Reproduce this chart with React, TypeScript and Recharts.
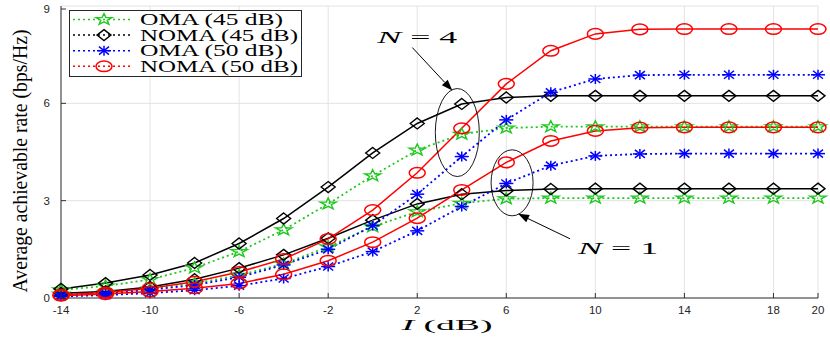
import { CartesianGrid, Legend, Line, LineChart, ReferenceDot, XAxis, YAxis } from "recharts";

const xValues = [-14, -12, -10, -8, -6, -4, -2, 0, 2, 4, 6, 8, 10, 12, 14, 16, 18, 20];
const xTicks = [-14, -10, -6, -2, 2, 6, 10, 14, 18, 20];
const yTicks = [0, 3, 6, 9];

// N = 4
const oma45N4 = [0.25, 0.37, 0.57, 0.93, 1.43, 2.1, 2.9, 3.77, 4.56, 5.05, 5.24, 5.28, 5.28, 5.28, 5.28, 5.28, 5.28, 5.28];
const noma45N4 = [0.28, 0.46, 0.71, 1.08, 1.68, 2.45, 3.42, 4.47, 5.38, 5.98, 6.18, 6.23, 6.23, 6.23, 6.23, 6.23, 6.23, 6.23];
const oma50N4 = [0.08, 0.14, 0.25, 0.4, 0.64, 1.02, 1.5, 2.23, 3.2, 4.36, 5.49, 6.34, 6.75, 6.87, 6.88, 6.88, 6.88, 6.88];
const noma50N4 = [0.1, 0.17, 0.3, 0.5, 0.8, 1.2, 1.82, 2.71, 3.86, 5.23, 6.6, 7.62, 8.14, 8.28, 8.29, 8.29, 8.29, 8.29];
// N = 1
const oma45N1 = [0.12, 0.18, 0.28, 0.45, 0.7, 1.05, 1.58, 2.2, 2.66, 2.92, 3.06, 3.08, 3.08, 3.08, 3.08, 3.08, 3.08, 3.08];
const noma45N1 = [0.15, 0.2, 0.34, 0.58, 0.92, 1.33, 1.84, 2.4, 2.9, 3.2, 3.31, 3.36, 3.37, 3.37, 3.37, 3.37, 3.37, 3.37];
const oma50N1 = [0.05, 0.09, 0.15, 0.24, 0.38, 0.6, 0.97, 1.43, 2.07, 2.82, 3.53, 4.08, 4.38, 4.44, 4.45, 4.45, 4.45, 4.45];
const noma50N1 = [0.07, 0.12, 0.2, 0.3, 0.45, 0.73, 1.15, 1.72, 2.46, 3.33, 4.18, 4.84, 5.15, 5.25, 5.26, 5.26, 5.26, 5.26];

const data = xValues.map((x, i) => ({
  x,
  oma45N4: oma45N4[i],
  noma45N4: noma45N4[i],
  oma50N4: oma50N4[i],
  noma50N4: noma50N4[i],
  oma45N1: oma45N1[i],
  noma45N1: noma45N1[i],
  oma50N1: oma50N1[i],
  noma50N1: noma50N1[i],
}));

const GREEN = "#1ec81e";
const BLUE = "#0000ff";
const RED = "#ff0000";
const BLACK = "#000000";
const SERIF = "'Liberation Serif', 'DejaVu Serif', serif";
const SANS = "'Liberation Sans', Arial, sans-serif";

type MarkerKind = "star" | "diamond" | "asterisk" | "circle";

function starPoints(cx: number, cy: number) {
  const pts: string[] = [];
  for (let k = 0; k < 10; k++) {
    const r = k % 2 === 0 ? 6 : 2.4;
    const a = -Math.PI / 2 + (k * Math.PI) / 5;
    pts.push(`${cx + r * Math.cos(a) * 1.4},${cy + r * Math.sin(a)}`);
  }
  return pts.join(" ");
}

function Marker({ kind, cx, cy }: { kind: MarkerKind; cx: number; cy: number }) {
  if (kind === "star")
    return <polygon points={starPoints(cx, cy)} fill="none" stroke={GREEN} strokeWidth={1.4} />;
  if (kind === "diamond")
    return (
      <polygon
        points={`${cx},${cy - 5.5} ${cx + 7},${cy} ${cx},${cy + 5.5} ${cx - 7},${cy}`}
        fill="none"
        stroke={BLACK}
        strokeWidth={1.4}
      />
    );
  if (kind === "asterisk")
    return (
      <g stroke={BLUE} strokeWidth={1.5}>
        <line x1={cx - 7} y1={cy} x2={cx + 7} y2={cy} />
        <line x1={cx} y1={cy - 5} x2={cx} y2={cy + 5} />
        <line x1={cx - 5} y1={cy - 4} x2={cx + 5} y2={cy + 4} />
        <line x1={cx - 5} y1={cy + 4} x2={cx + 5} y2={cy - 4} />
      </g>
    );
  return <ellipse cx={cx} cy={cy} rx={8} ry={5.3} fill="none" stroke={RED} strokeWidth={1.5} />;
}

const dotOf = (kind: MarkerKind, name: string) => (p: any) =>
  p.cx == null ? <g key={`${name}-${p.index}`} /> : (
    <g key={`${name}-${p.index}`}>
      <Marker kind={kind} cx={p.cx} cy={p.cy} />
    </g>
  );

const legendItems: { label: string; color: string; kind: MarkerKind; len: number }[] = [
  { label: "OMA (45 dB)", color: GREEN, kind: "star", len: 143 },
  { label: "NOMA (45 dB)", color: BLACK, kind: "diamond", len: 158 },
  { label: "OMA (50 dB)", color: BLUE, kind: "asterisk", len: 143 },
  { label: "NOMA (50 dB)", color: RED, kind: "circle", len: 158 },
];

function LegendBox() {
  return (
    <svg width={233} height={67} style={{ display: "block" }}>
      <rect x={0.5} y={0.5} width={232} height={66} fill="#fff" stroke="#262626" strokeWidth={1} />
      {legendItems.map((it, i) => {
        const y = 9.5 + i * 15.6;
        return (
          <g key={it.label}>
            <line x1={4} x2={61} y1={y} y2={y} stroke={it.color} strokeWidth={1.5} strokeDasharray="2 3" />
            <Marker kind={it.kind} cx={35} cy={y} />
            <text
              x={71}
              y={y + 5.5}
              fontFamily={SERIF}
              fontSize={16}
              fill="#000"
              textLength={it.len}
              lengthAdjust="spacingAndGlyphs"
            >
              {it.label}
            </text>
          </g>
        );
      })}
    </svg>
  );
}

function Arrow({ x1, y1, x2, y2 }: { x1: number; y1: number; x2: number; y2: number }) {
  const a = Math.atan2(y2 - y1, x2 - x1);
  const L = 11;
  const W = 4;
  const bx = x2 - L * Math.cos(a);
  const by = y2 - L * Math.sin(a);
  const p1 = `${bx - W * Math.sin(a)},${by + W * Math.cos(a)}`;
  const p2 = `${bx + W * Math.sin(a)},${by - W * Math.cos(a)}`;
  return (
    <g>
      <line x1={x1} y1={y1} x2={bx} y2={by} stroke="#000" strokeWidth={1} />
      <polygon points={`${x2},${y2} ${p1} ${p2}`} fill="#000" />
    </g>
  );
}

function NLabel({ x, y, n }: { x: number; y: number; n: number }) {
  return (
    <text x={x} y={y} fontFamily={SERIF} fontSize={17} fill="#000" textLength={80} lengthAdjust="spacingAndGlyphs">
      <tspan fontStyle="italic">N</tspan> = {n}
    </text>
  );
}

const groupN4 = (p: any) => (
  <g>
    <ellipse cx={p.cx} cy={p.cy} rx={22} ry={44} fill="none" stroke="#000" strokeWidth={0.9} />
    <Arrow x1={p.cx - 45} y1={p.cy - 85} x2={p.cx - 5} y2={p.cy - 42} />
    <NLabel x={p.cx - 80} y={p.cy - 90} n={4} />
  </g>
);

const groupN1 = (p: any) => (
  <g>
    <ellipse cx={p.cx} cy={p.cy} rx={21} ry={33} fill="none" stroke="#000" strokeWidth={0.9} />
    <Arrow x1={p.cx + 58} y1={p.cy + 56} x2={p.cx + 6} y2={p.cy + 31} />
    <NLabel x={p.cx + 66} y={p.cy + 71} n={1} />
  </g>
);

const XTick = (p: any) => (
  <g>
    <line x1={p.x} x2={p.x} y1={p.y} y2={p.y - 5} stroke="#333" strokeWidth={1} />
    <text x={p.x} y={p.y + 15.5} textAnchor="middle" fontFamily={SANS} fontSize={11.5} fill="#262626">
      {p.payload.value}
    </text>
  </g>
);

const YTick = (p: any) => (
  <g>
    <line x1={p.x} x2={p.x + 5} y1={p.y} y2={p.y} stroke="#333" strokeWidth={1} />
    <text x={p.x - 11} y={p.y + 4} textAnchor="end" fontFamily={SANS} fontSize={11.5} fill="#262626">
      {p.payload.value}
    </text>
  </g>
);

const YLabel = () => (
  <text
    transform="translate(27,161) rotate(-90)"
    textAnchor="middle"
    fontFamily={SERIF}
    fontSize={21}
    fill="#000"
    textLength={263}
    lengthAdjust="spacingAndGlyphs"
  >
    Average achievable rate (bps/Hz)
  </text>
);

const XLabel = () => (
  <text x={447} y={330} textAnchor="middle" fontFamily={SERIF} fontSize={15} fill="#000" textLength={91} lengthAdjust="spacingAndGlyphs">
    <tspan fontStyle="italic">I</tspan> (dB)
  </text>
);

const series: { key: string; color: string; kind: MarkerKind; dotted: boolean }[] = [
  { key: "oma45N4", color: GREEN, kind: "star", dotted: true },
  { key: "oma45N1", color: GREEN, kind: "star", dotted: true },
  { key: "noma45N4", color: BLACK, kind: "diamond", dotted: false },
  { key: "noma45N1", color: BLACK, kind: "diamond", dotted: false },
  { key: "oma50N4", color: BLUE, kind: "asterisk", dotted: true },
  { key: "oma50N1", color: BLUE, kind: "asterisk", dotted: true },
  { key: "noma50N4", color: RED, kind: "circle", dotted: false },
  { key: "noma50N1", color: RED, kind: "circle", dotted: false },
];

export default function App() {
  return (
    <div style={{ position: "absolute", left: 0, top: 0, background: "#fff" }}>
      <LineChart width={830} height={338} data={data} margin={{ top: 6, right: 12, bottom: 0, left: 0 }}>
        <CartesianGrid stroke="#e3e3e3" strokeWidth={1} />
        <XAxis
          dataKey="x"
          type="number"
          domain={[-14, 20]}
          ticks={xTicks}
          height={40}
          tickSize={0}
          tickMargin={0}
          tickLine={false}
          tick={XTick}
          axisLine={{ stroke: "#333" }}
          label={{ content: XLabel }}
        />
        <YAxis
          type="number"
          domain={[0, 9]}
          ticks={yTicks}
          width={61}
          tickSize={0}
          tickMargin={0}
          tickLine={false}
          tick={YTick}
          axisLine={{ stroke: "#333" }}
          label={{ content: YLabel }}
        />
        {series.map((s) => (
          <Line
            key={s.key}
            dataKey={s.key}
            type="linear"
            stroke={s.color}
            strokeWidth={s.dotted ? 1.8 : 1.5}
            strokeDasharray={s.dotted ? "2 3" : undefined}
            dot={dotOf(s.kind, s.key)}
            activeDot={false}
            legendType="none"
            isAnimationActive={false}
          />
        ))}
        <ReferenceDot x={3.8} y={5.1} r={0} shape={groupN4} />
        <ReferenceDot x={6.26} y={3.55} r={0} shape={groupN1} />
        <Legend
          layout="vertical"
          align="center"
          verticalAlign="middle"
          content={() => <LegendBox />}
          wrapperStyle={{ position: "absolute", left: 69, top: 10, width: 233, height: 67 }}
        />
      </LineChart>
    </div>
  );
}
